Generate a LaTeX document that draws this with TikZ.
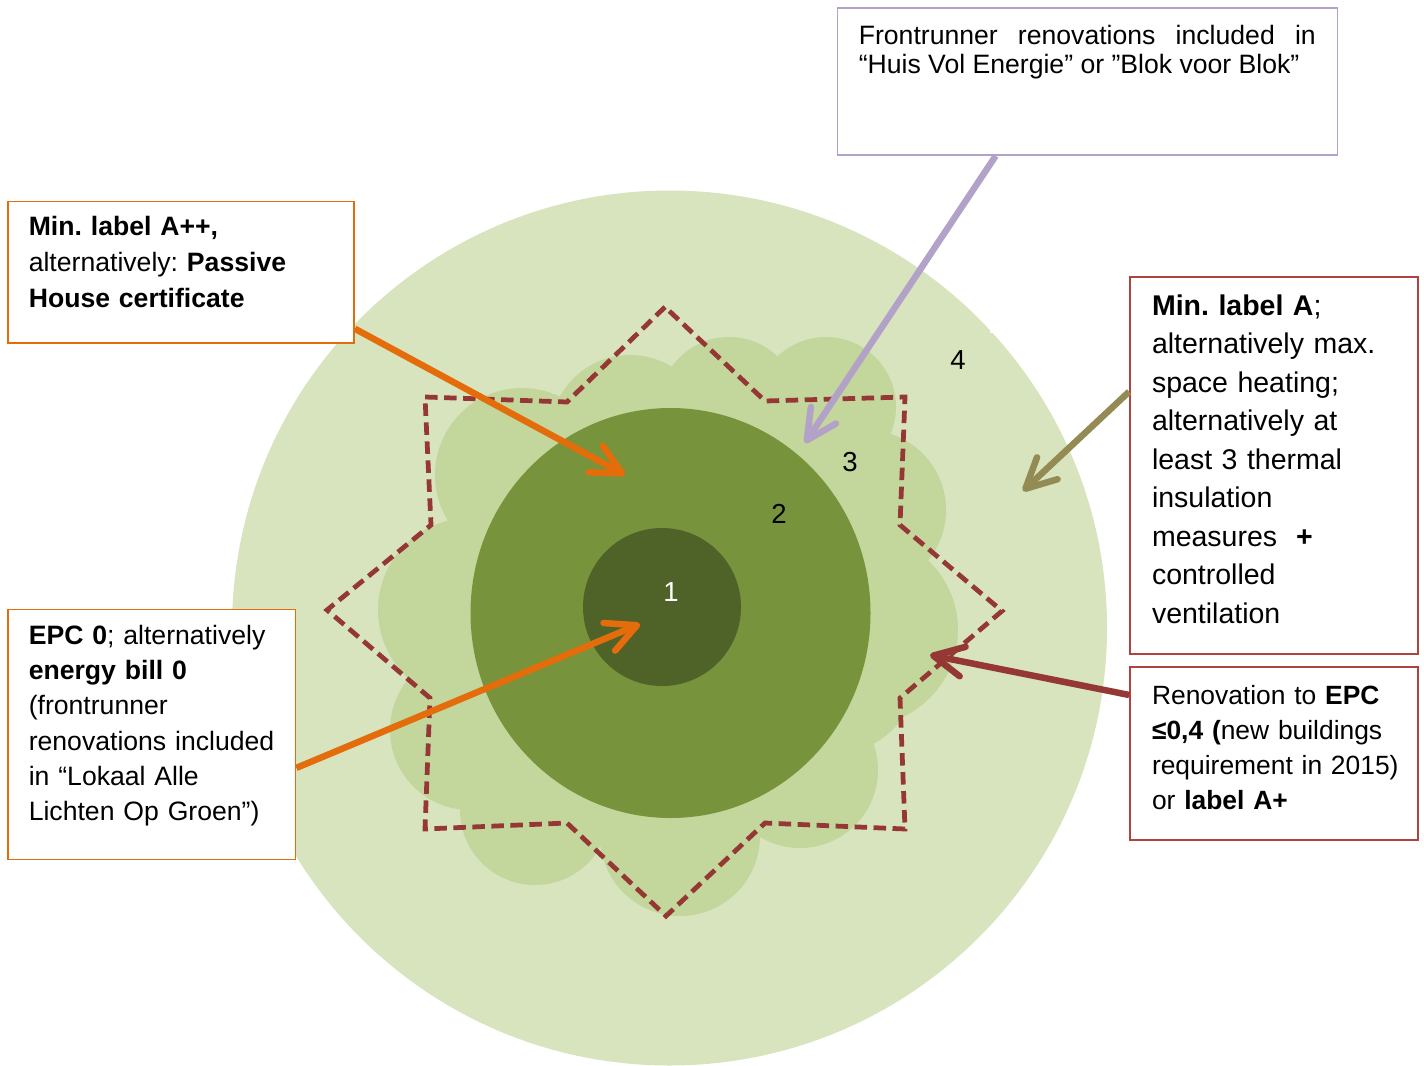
\documentclass[tikz,border=0pt]{standalone}
\usepackage{fontspec}
\setmainfont{Liberation Sans}
\usepackage{xcolor}
\usepackage{tikz}
\usetikzlibrary{arrows.meta,shapes}
\frenchspacing

\definecolor{ringFour}{HTML}{D7E4BD}
\definecolor{ringThree}{HTML}{C3D69B}
\definecolor{ringTwo}{HTML}{77933C}
\definecolor{ringOne}{HTML}{4F6228}
\definecolor{starRed}{HTML}{953735}
\definecolor{arrowOrange}{HTML}{E46C0A}
\definecolor{arrowLilac}{HTML}{B3A2C7}
\definecolor{arrowOlive}{HTML}{948A54}
\definecolor{boxRed}{HTML}{B0423F}

\begin{document}
\begin{tikzpicture}[x=0.4pt, y=-0.4pt,
        >={Straight Barb[length=12pt, width=12pt, round]},
        boxframe/.style={draw=#1, line width=0.7pt, fill=white, inner sep=0pt},
        note/.style={anchor=base west, inner sep=0pt, align=left},
        ringnum/.style={inner sep=0pt, font=\fontsize{11pt}{12pt}\selectfont},
        pointer/.style={->, draw=#1, line width=2.6pt}]

        % page in pixel units, y pointing down
        \useasboundingbox (0,0) rectangle (1424,1065);
        \clip (0,0) rectangle (1424,1065);

        % Parameters
        \def\midX{669.5}         % centre of the outer disc
        \def\midY{628}
        \def\outerR{437.5}       % radius of ring 4

        % ring 4
        \fill[ringFour] (\midX,\midY) circle[radius=\outerR];
        \fill[white] (990,160) rectangle (1125,333);
        \fill[white] (1001,333) rectangle (1125,343);

        % ring 3 (cloud made of bumps)
        \foreach \cx/\cy/\r in {522/475/87, 630/435/80, 729/407/70, 826/407/70,
                                866/510/80, 862/630/96, 830/665/90, 800/770/78,
                                680/836/80, 535/810/75, 470/730/80, 470/610/92,
                                669/612/215}
            \fill[ringThree] (\cx,\cy) circle[radius=\r];

        % ring 2 and ring 1
        \fill[ringTwo] (670.5,613) ellipse[x radius=200, y radius=205];
        \fill[ringOne] (662,607) circle[radius=79];

        % dashed star
        \draw[starRed, line width=1.9pt, dash pattern=on 5pt off 2.6pt]
            (665,307) -- (567,402) -- (425,397) -- (431,525) -- (327,610)
            -- (430,698) -- (425,829) -- (567,823) -- (666,916) -- (765,823)
            -- (905,829) -- (900,698) -- (1002,611) -- (900,525) -- (905,397)
            -- (765,401) -- cycle;

        % ring numbers
        \node[ringnum, text=white] (numOne) at (671,592) {1};
        \node[ringnum] (numTwo) at (779,514) {2};
        \node[ringnum] (numThree) at (850,462) {3};
        \node[ringnum] (numFour) at (958,360) {4};

        % boxes
        \node[boxframe=arrowLilac, minimum width=200pt, minimum height=58.8pt] (frontBox) at (1087.5,81.5) {};
        \node[boxframe=arrowOrange, minimum width=138.4pt, minimum height=56.6pt] (passiveBox) at (181,272.25) {};
        \node[boxframe=arrowOrange, minimum width=115pt, minimum height=100pt] (epcZeroBox) at (151.75,734.5) {};
        \node[boxframe=boxRed, minimum width=115.2pt, minimum height=150.8pt] (labelABox) at (1274,465.5) {};
        \node[boxframe=boxRed, minimum width=115.2pt, minimum height=69.2pt] (epcFourBox) at (1274,753.5) {};

        % Text
        \node[note, align=justify, text width=182.8pt, font=\fontsize{10.64pt}{11.6pt}\selectfont] (frontText) at (858.3,45)
        {Frontrunner renovations included in\linebreak “Huis Vol Energie” or ”Blok voor Blok”};

        \node[note, text width=130pt, font=\fontsize{10.64pt}{14.32pt}\selectfont] (passiveText) at (28.3,235.7)
        {\textbf{Min. label A++,}\\ alternatively: \textbf{Passive}\\ \textbf{House certificate}};

        \node[note, text width=108pt, font=\fontsize{10.64pt}{14.1pt}\selectfont] (epcZeroText) at (28.3,644.3)
        {\textbf{EPC 0}; alternatively\\ \textbf{energy bill 0}\\ (frontrunner\\ renovations included\\ in “Lokaal Alle\\ Lichten Op Groen”)};

        \node[note, text width=108pt, font=\fontsize{11.4pt}{15.4pt}\selectfont] (labelAText) at (1151.5,315.4)
        {\textbf{Min. label A};\\ alternatively max.\\ space heating;\\ alternatively at\\ least 3 thermal\\ insulation\\ measures\ \ \textbf{+}\\ controlled\\ ventilation};

        \node[note, text width=108pt, font=\fontsize{10.56pt}{14.1pt}\selectfont] (epcFourText) at (1151.5,704)
        {Renovation to \textbf{EPC}\\ \textbf{≤0,4 (}new buildings\\ requirement in 2015)\\ or \textbf{label A+}};

        % arrow tips
        \coordinate (ringTwoTip) at (625,475);
        \coordinate (ringOneTip) at (640,624);
        \coordinate (ringThreeTip) at (805,443);
        \coordinate (ringFourTip) at (1023,491);
        \coordinate (starTip) at (930,655);

        % arrows
        \draw[pointer=arrowOrange] (passiveBox.-18) -- (ringTwoTip);
        \draw[pointer=arrowOrange] (epcZeroBox.-13) -- (ringOneTip);
        \draw[pointer=arrowLilac] (frontBox.219.4) -- (ringThreeTip);
        \draw[pointer=arrowOlive] (labelABox.153.3) -- (ringFourTip);
        \draw[pointer=starRed] (epcFourBox.158.6) -- (starTip);

\end{tikzpicture}
\end{document}
